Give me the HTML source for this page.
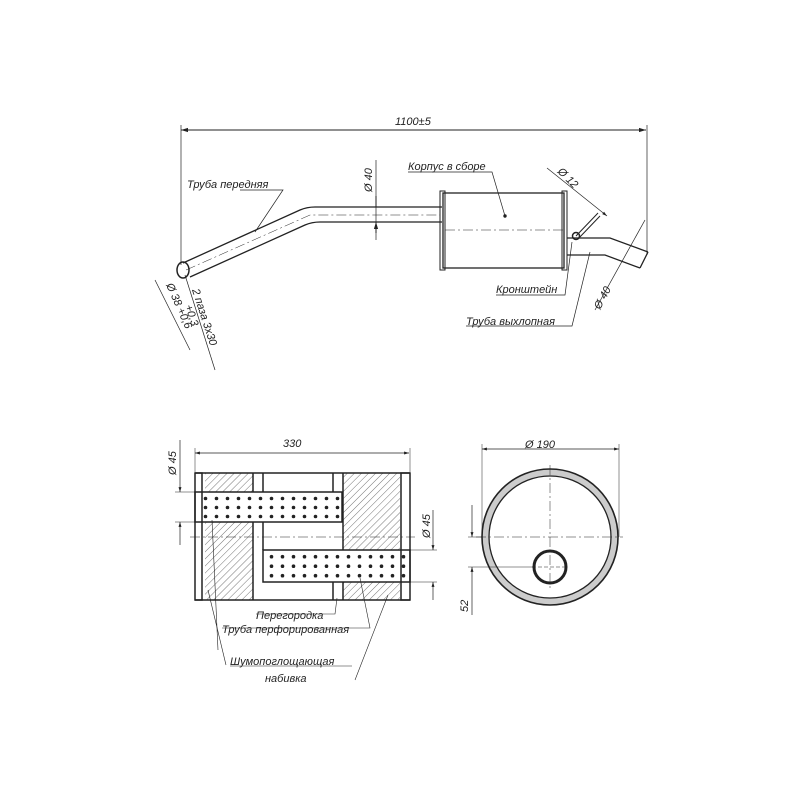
<!DOCTYPE html>
<html><head><meta charset="utf-8"><style>body{margin:0;background:#fff}svg{display:block}text{font-family:"Liberation Sans",sans-serif;font-style:italic;font-size:11px;fill:#222}</style></head><body>
<svg width="800" height="800" viewBox="0 0 800 800" xmlns="http://www.w3.org/2000/svg">
<defs>
<marker id="a" viewBox="0 0 10 10" refX="10" refY="5" markerWidth="12" markerHeight="7" orient="auto-start-reverse"><path d="M0,2 L10,5 L0,8z" fill="#222"/></marker>
<pattern id="h" width="5" height="5" patternUnits="userSpaceOnUse" patternTransform="rotate(45)"><line x1="0" y1="0" x2="0" y2="5" stroke="#666" stroke-width="0.9"/></pattern>
<pattern id="d1" x="200" y="494" width="11" height="9" patternUnits="userSpaceOnUse"><circle cx="5.5" cy="4.5" r="1.8" fill="#222"/></pattern>
<pattern id="d2" x="266" y="552" width="11" height="9.5" patternUnits="userSpaceOnUse"><circle cx="5.5" cy="4.7" r="1.8" fill="#222"/></pattern>
</defs>
<g stroke="#222" fill="none" stroke-width="1">
<line x1="181" y1="130" x2="646" y2="130" marker-start="url(#a)" marker-end="url(#a)"/>
<line x1="181" y1="125" x2="181" y2="265" stroke-width="0.7"/>
<line x1="647" y1="125" x2="647" y2="255" stroke-width="0.7"/>
<path d="M183,263 L300,210 Q307,207 315,207 L442,207" stroke-width="1.3"/>
<path d="M190,277 L305,225 Q312,222 320,222 L442,222" stroke-width="1.3"/>
<path d="M186,270 L310,215 L440,215" stroke-width="0.5" stroke-dasharray="10,3,2,3"/>
<ellipse cx="183" cy="270" rx="6" ry="8" stroke-width="1.5"/>
<rect x="443" y="193" width="121" height="75" stroke-width="1.3"/>
<rect x="440" y="191" width="5" height="79"/>
<rect x="562" y="191" width="5" height="79"/>
<line x1="445" y1="230" x2="565" y2="230" stroke-width="0.5" stroke-dasharray="10,3,2,3"/>
<circle cx="505" cy="216" r="1.2" fill="#222"/>
<path d="M567,238 L610,238 L648,252" stroke-width="1.3"/>
<path d="M567,255 L605,255 L640,268" stroke-width="1.3"/>
<path d="M648,252 L640,268" stroke-width="1.3"/>
<circle cx="576" cy="236" r="3.5" stroke-width="1.5"/>
<line x1="576" y1="236" x2="598" y2="213"/>
<line x1="578" y1="239" x2="600" y2="216"/>
<line x1="376" y1="160" x2="376" y2="240" stroke-width="0.7"/>
<path d="M376,196 L376,207 M376,233 L376,222" marker-end="url(#a)"/>
<line x1="547" y1="168" x2="607" y2="216" stroke-width="0.7" marker-end="url(#a)"/>
<line x1="595" y1="310" x2="645" y2="220" stroke-width="0.7"/>
<path d="M240,190 L283,190 L255,232" stroke-width="0.7"/>
<path d="M408,172 L492,172 L505,216" stroke-width="0.7"/>
<path d="M496,295 L565,295 L572,242" stroke-width="0.7"/>
<path d="M466,326 L572,326 L590,252" stroke-width="0.7"/>
<line x1="155" y1="280" x2="190" y2="350" stroke-width="0.7"/>
<line x1="185" y1="275" x2="215" y2="370" stroke-width="0.7"/>
<line x1="195" y1="453" x2="409" y2="453" stroke-width="0.7" marker-start="url(#a)" marker-end="url(#a)"/>
<line x1="195" y1="448" x2="195" y2="472" stroke-width="0.5"/>
<line x1="410" y1="448" x2="410" y2="472" stroke-width="0.5"/>
<rect x="205" y="473" width="48" height="19" fill="url(#h)" stroke="none"/>
<rect x="205" y="522" width="48" height="78" fill="url(#h)" stroke="none"/>
<rect x="343" y="473" width="57" height="77" fill="url(#h)" stroke="none"/>
<rect x="343" y="582" width="57" height="18" fill="url(#h)" stroke="none"/>
<rect x="200" y="494" width="143" height="27" fill="url(#d1)" stroke="none"/>
<rect x="266" y="552" width="143" height="29" fill="url(#d2)" stroke="none"/>
<g stroke-width="1.5">
<line x1="195" y1="473" x2="410" y2="473"/>
<line x1="195" y1="600" x2="410" y2="600"/>
<rect x="195" y="473" width="7" height="127"/>
<rect x="401" y="473" width="9" height="127"/>
<rect x="195" y="492" width="147" height="30"/>
<rect x="263" y="550" width="147" height="32"/>
<path d="M253,473 V492 M263,473 V492 M253,522 V600 M263,522 V550"/>
<path d="M333,473 V492 M343,473 V492 M333,582 V600 M343,582 V600"/>
<line x1="343" y1="492" x2="343" y2="550"/>
</g>
<line x1="190" y1="537" x2="415" y2="537" stroke-width="0.5" stroke-dasharray="10,3,2,3"/>
<path d="M175,492 H195 M175,522 H195 M410,550 H437 M410,582 H437" stroke-width="0.5"/>
<line x1="180" y1="440" x2="180" y2="492" marker-end="url(#a)" stroke-width="0.7"/>
<line x1="180" y1="545" x2="180" y2="522" marker-end="url(#a)" stroke-width="0.7"/>
<line x1="433" y1="510" x2="433" y2="550" marker-end="url(#a)" stroke-width="0.7"/>
<line x1="433" y1="600" x2="433" y2="582" marker-end="url(#a)" stroke-width="0.7"/>
<path d="M256,614 L335,614 L337,598" stroke-width="0.6"/>
<path d="M222,628 L370,628 L360,578" stroke-width="0.6"/>
<path d="M212,520 L218,650" stroke-width="0.6"/>
<path d="M208,590 L226,665" stroke-width="0.6"/>
<path d="M388,595 L355,680" stroke-width="0.6"/>
<path d="M230,666 L352,666" stroke-width="0.6"/>
<circle cx="550" cy="537" r="64.5" stroke="#ccc" stroke-width="6"/>
<circle cx="550" cy="537" r="68" stroke-width="1.6"/>
<circle cx="550" cy="537" r="61" stroke-width="1.3"/>
<circle cx="550" cy="567" r="16" stroke-width="3"/>
<line x1="476" y1="537" x2="623" y2="537" stroke-width="0.5" stroke-dasharray="10,3,2,3"/>
<line x1="550" y1="465" x2="550" y2="590" stroke-width="0.5" stroke-dasharray="10,3,2,3"/>
<line x1="532" y1="567" x2="568" y2="567" stroke-width="0.5" stroke-dasharray="4,2"/>
<line x1="482" y1="449" x2="619" y2="449" stroke-width="0.7" marker-start="url(#a)" marker-end="url(#a)"/>
<line x1="482" y1="444" x2="482" y2="537" stroke-width="0.5"/>
<line x1="619" y1="444" x2="619" y2="537" stroke-width="0.5"/>
<path d="M468,537 H482 M468,567 H534" stroke-width="0.5"/>
<line x1="472" y1="505" x2="472" y2="537" stroke-width="0.7" marker-end="url(#a)"/>
<line x1="472" y1="615" x2="472" y2="567" stroke-width="0.7" marker-end="url(#a)"/>
</g>
<text x="395" y="125">1100±5</text>
<text x="187" y="188">Труба передняя</text>
<text x="408" y="170">Корпус в сборе</text>
<text x="496" y="293">Кронштейн</text>
<text x="466" y="325">Труба выхлопная</text>
<text transform="translate(372,192) rotate(-90)">Ø 40</text>
<text transform="translate(557,172) rotate(45)">Ø 12</text>
<text transform="translate(600,310) rotate(-62)">Ø 40</text>
<text transform="translate(166,285) rotate(66)">Ø 38 +0,6</text>
<text transform="translate(192,290) rotate(72)">2 паза 3х30</text>
<text transform="translate(185,306) rotate(72)">+0,3</text>
<text x="283" y="447">330</text>
<text transform="translate(176,475) rotate(-90)">Ø 45</text>
<text transform="translate(430,538) rotate(-90)">Ø 45</text>
<text x="256" y="619">Перегородка</text>
<text x="222" y="633">Труба перфорированная</text>
<text x="230" y="665">Шумопоглощающая</text>
<text x="265" y="682">набивка</text>
<text x="525" y="448">Ø 190</text>
<text transform="translate(468,612) rotate(-90)">52</text>
</svg>
</body></html>
